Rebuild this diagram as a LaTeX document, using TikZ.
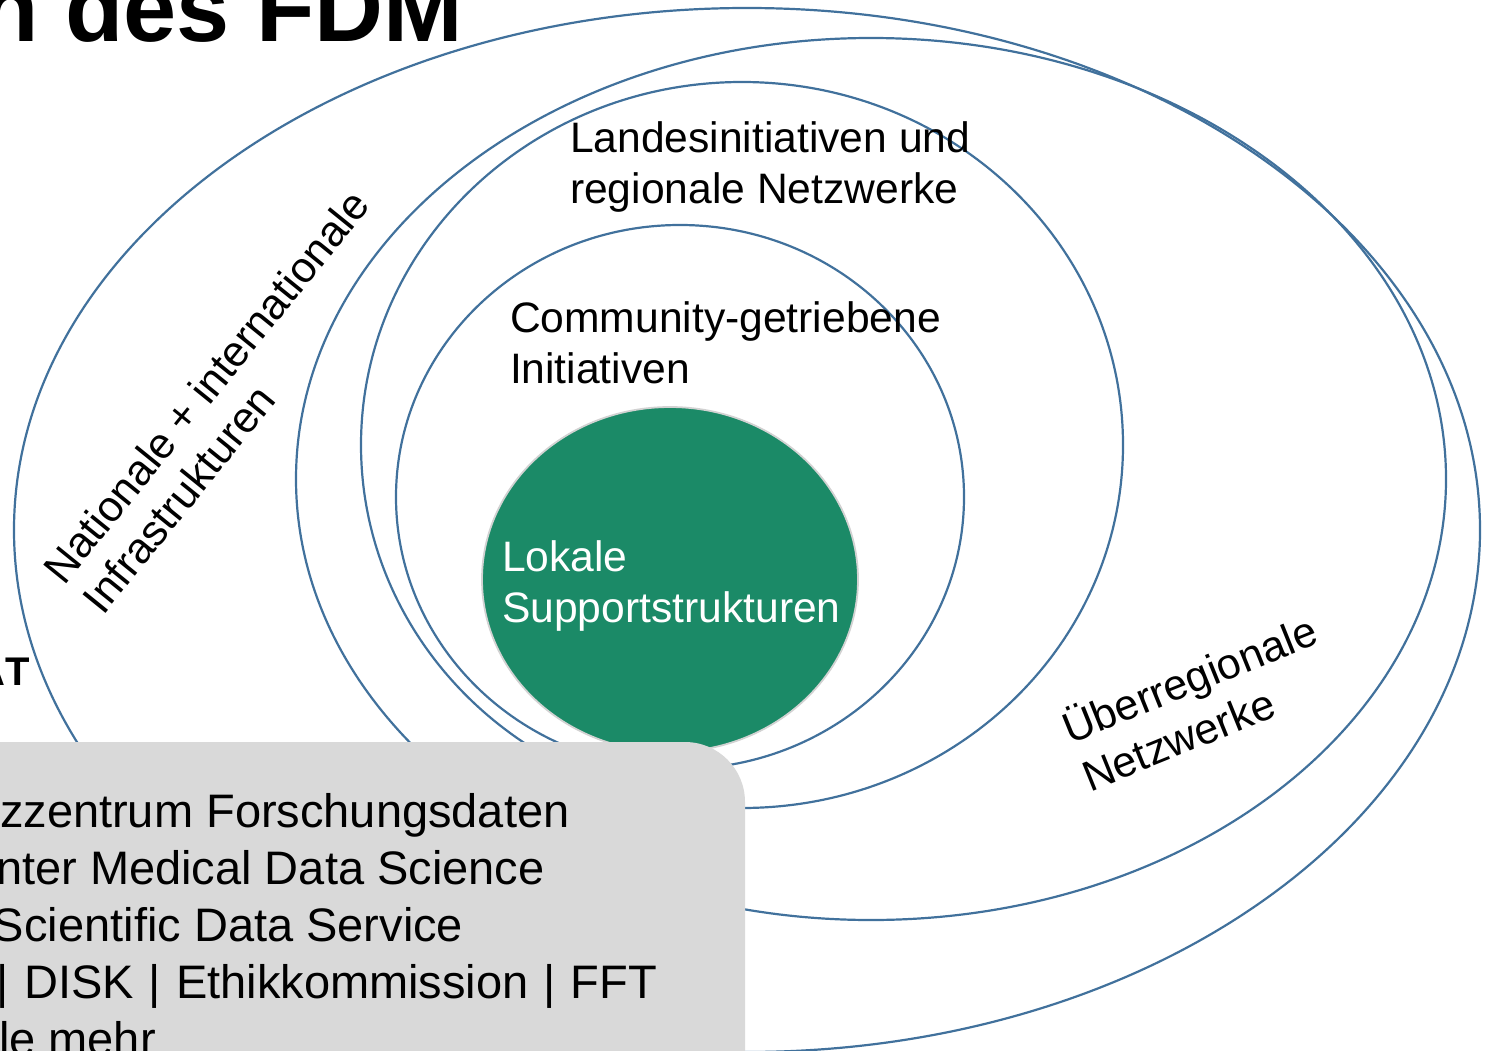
\documentclass[tikz,border=0pt]{standalone}
\usepackage{fontspec}
\setmainfont{Liberation Sans}
\usetikzlibrary{shapes.geometric}
\definecolor{ringblue}{RGB}{65,113,156}
\definecolor{localgreen}{RGB}{27,138,103}
\definecolor{boxgray}{RGB}{217,217,217}
\definecolor{rimgray}{RGB}{210,210,210}
\begin{document}
\begin{tikzpicture}[x=1pt,y=-1pt,
  ring/.style={ellipse, draw=ringblue, line width=2.2pt, inner sep=0pt, outer sep=0pt},
  lbl/.style={anchor=base west, inner sep=0pt, outer sep=0pt, font=\fontsize{42.6}{51}\selectfont},
  rlbl/.style={anchor=base west, inner sep=0pt, outer sep=0pt, font=\fontsize{43}{51}\selectfont},
  boxtxt/.style={anchor=base west, inner sep=0pt, outer sep=0pt, font=\fontsize{47}{57}\selectfont}]
\useasboundingbox (0,0) rectangle (1487,1051);
% rings
\node[ring, minimum width=1466pt, minimum height=1044pt] (national) at (747,530) {};
\node[ring, minimum width=1150pt, minimum height=882pt] (ueberregional) at (871,479) {};
\node[ring, minimum width=762pt, minimum height=726pt] (land) at (742,445) {};
\node[ring, minimum width=568pt, minimum height=544pt] (community) at (680,497) {};
% local support
\node[ellipse, fill=localgreen, draw=rimgray, line width=1.8pt, inner sep=0pt,
      minimum width=376pt, minimum height=345pt] (lokal) at (670,579.5) {};
\node[lbl, text=white] (lokal1) at (502,571) {Lokale};
\node[lbl, text=white] (lokal2) at (502,622) {Supportstrukturen};
% ring labels
\node[lbl] (land1) at (570,153) {Landesinitiativen und};
\node[lbl] (land2) at (570,203) {regionale Netzwerke};
\node[lbl] (comm1) at (510,332) {Community-getriebene};
\node[lbl] (comm2) at (510,383) {Initiativen};
\node[rlbl, rotate=51] (nat1) at (64,586) {Nationale + internationale};
\node[rlbl, rotate=51] (nat2) at (103,616) {Infrastrukturen};
\node[rlbl, rotate=22] (ueb1) at (1070,744) {Überregionale};
\node[rlbl, rotate=22] (ueb2) at (1090,792) {Netzwerke};
% grey box
\fill[boxgray, rounded corners=60pt] (-120,742) rectangle (745,1200);
\node[boxtxt] (b1) at (0,827) {zzentrum Forschungsdaten};
\node[boxtxt] (b2) at (-4,884) {nter Medical Data Science};
\node[boxtxt] (b3) at (-7,941) {Scientific Data Service};
\node[boxtxt] (b4) at (-3,998) {\spaceskip=15pt plus 1pt\relax | DISK | Ethikkommission | FFT};
\node[boxtxt] (b5) at (-1,1055) {le mehr};
% title and side text
\node[anchor=base west, inner sep=0pt, font=\bfseries\fontsize{95.5}{108}\selectfont] (title) at (-20,42) {n des FDM};
\node[anchor=base west, inner sep=0pt, font=\bfseries\fontsize{40}{48}\selectfont] (side) at (-24,685) {ÄT};
\end{tikzpicture}
\end{document}
